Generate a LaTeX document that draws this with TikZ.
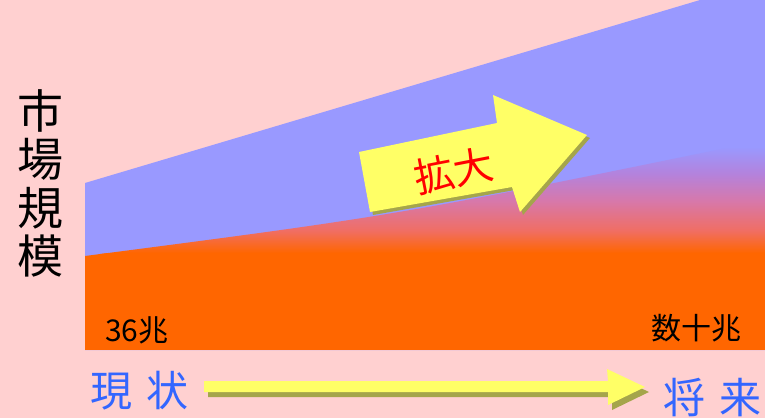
\documentclass[tikz,border=0pt]{standalone}
\usepackage{fontspec}
\newfontfamily\jp{Noto Sans CJK JP}
\definecolor{bgpink}{HTML}{FFD0D0}
\definecolor{blueA}{HTML}{9999FF}
\definecolor{orangeA}{HTML}{FF6600}
\definecolor{mixB}{RGB}{180,130,220}
\definecolor{mixC}{RGB}{215,120,170}
\definecolor{mixD}{RGB}{240,110,100}
\definecolor{arrowY}{HTML}{FFFF66}
\definecolor{shadowY}{RGB}{165,165,75}
\definecolor{textBlue}{HTML}{3366FF}
\pgfdeclareverticalshading{fadeBO}{100bp}{color(0bp)=(orangeA); color(25bp)=(orangeA); color(35bp)=(mixD); color(48bp)=(mixC); color(60bp)=(mixB); color(72bp)=(blueA); color(100bp)=(blueA)}
\tikzset{
  jplabel/.style={inner sep=0pt, font=\jp\fontsize{#1}{#1}\selectfont},
  bluelabel/.style={jplabel=42, text=textBlue},
  vlabel/.style={jplabel=46, text=black},
  numlabel/.style={jplabel=30, text=black},
}
\begin{document}
\begin{tikzpicture}[x=1pt,y=-1pt]
\useasboundingbox (0,0) rectangle (765,418);
\fill[bgpink] (0,0) rectangle (765,418);
% market area
\fill[blueA] (85,183) -- (700,0) -- (765,0) -- (765,350) -- (85,350) -- cycle;
\begin{scope}
  \clip (85,256) .. controls (400,215) .. (765,140) -- (765,350) -- (85,350) -- cycle;
  \shade[shading=fadeBO] (85,140) rectangle (765,253);
  \fill[orangeA] (85,252.5) rectangle (765,350);
\end{scope}
% growth arrow
\fill[shadowY, shift={(3,3)}] (359,152) -- (497,123) -- (493,95) -- (587,135) -- (520,212) -- (512,187) -- (370,212) -- cycle;
\fill[arrowY] (359,152) -- (497,123) -- (493,95) -- (587,135) -- (520,212) -- (512,187) -- (370,212) -- cycle;
\node[jplabel=40, text=red, rotate=11] (grow) at (454,171) {拡大};
% time arrow
\fill[shadowY, shift={(4,5)}] (204,381) -- (608,381) -- (607,369) -- (645,387) -- (608,405) -- (608,392) -- (204,392) -- cycle;
\fill[arrowY] (204,381) -- (608,381) -- (607,369) -- (645,387) -- (608,405) -- (608,392) -- (204,392) -- cycle;
% labels
\node[bluelabel] (now) at (139.5,391) {現\hspace{14pt}状};
\node[bluelabel] (future) at (712.5,397) {将\hspace{14pt}来};
\node[vlabel] (v1) at (40,111) {市};
\node[vlabel] (v2) at (40,159.5) {場};
\node[vlabel] (v3) at (40,208) {規};
\node[vlabel] (v4) at (40,256.5) {模};
\node[numlabel, anchor=west] (low) at (105,330) {36兆};
\node[numlabel] (high) at (696,328) {数十兆};
\end{tikzpicture}
\end{document}
